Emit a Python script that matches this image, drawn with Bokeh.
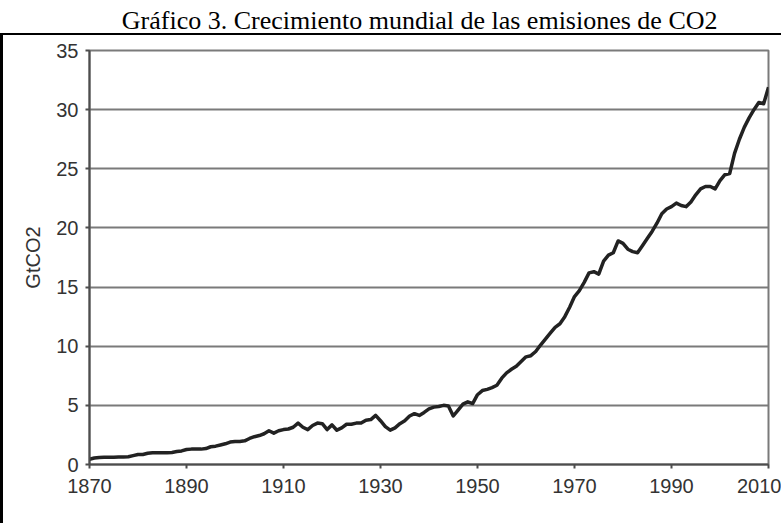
from bokeh.plotting import figure
from bokeh.layouts import column
from bokeh.models import Label, FixedTicker, Range1d
from bokeh.embed import file_html
from bokeh.resources import INLINE

title_text = "Gráfico 3. Crecimiento mundial de las emisiones de CO2"
y_label = "GtCO2"

years = list(range(1870, 2011))
emissions = [
    0.45, 0.55, 0.60, 0.62, 0.62, 0.62, 0.63, 0.63, 0.65, 0.75,   # 1870-1879
    0.85, 0.85, 0.95, 1.00, 1.00, 1.00, 1.00, 1.02, 1.10, 1.15,   # 1880-1889
    1.27, 1.30, 1.30, 1.30, 1.35, 1.50, 1.55, 1.65, 1.75, 1.90,   # 1890-1899
    1.95, 1.95, 2.00, 2.20, 2.35, 2.45, 2.60, 2.85, 2.65, 2.85,   # 1900-1909
    2.95, 3.00, 3.15, 3.50, 3.15, 2.95, 3.30, 3.50, 3.45, 2.95,   # 1910-1919
    3.35, 2.90, 3.10, 3.40, 3.40, 3.50, 3.50, 3.75, 3.80, 4.15,   # 1920-1929
    3.70, 3.20, 2.90, 3.10, 3.45, 3.70, 4.10, 4.30, 4.15, 4.40,   # 1930-1939
    4.70, 4.85, 4.90, 5.00, 4.95, 4.10, 4.60, 5.10, 5.30, 5.15,   # 1940-1949
    5.90, 6.25, 6.35, 6.50, 6.70, 7.30, 7.75, 8.05, 8.30, 8.70,   # 1950-1959
    9.10, 9.20, 9.55, 10.1, 10.6, 11.1, 11.6, 11.9, 12.5, 13.3,   # 1960-1969
    14.2, 14.7, 15.4, 16.2, 16.3, 16.1, 17.2, 17.7, 17.9, 18.9,   # 1970-1979
    18.7, 18.2, 18.0, 17.9, 18.5, 19.1, 19.7, 20.4, 21.2, 21.6,   # 1980-1989
    21.8, 22.1, 21.9, 21.8, 22.2, 22.8, 23.3, 23.5, 23.5, 23.3,   # 1990-1999
    24.0, 24.5, 24.6, 26.3, 27.5, 28.5, 29.3, 30.0, 30.6, 30.5,   # 2000-2009
    31.9,                                                         # 2010
]
assert len(years) == len(emissions)

x_ticks = [1870, 1890, 1910, 1930, 1950, 1970, 1990, 2010]
y_ticks = [0, 5, 10, 15, 20, 25, 30, 35]

# ---- title strip ----
t = figure(width=784, height=33, x_range=Range1d(0, 784), y_range=Range1d(0, 33),
           x_axis_type=None, y_axis_type=None,
           output_backend="svg", toolbar_location=None, min_border=0)
t.grid.grid_line_color = None
t.outline_line_color = None
t.add_layout(Label(x=383, y=13.5, text=title_text, text_align="center",
                   text_baseline="alphabetic", text_font="Liberation Serif",
                   text_font_size="26px", text_color="black"))

# ---- chart ----
p = figure(
    width=781, height=490,
    x_range=Range1d(1870, 2010), y_range=Range1d(0, 35),
    output_backend="svg", toolbar_location=None,
    min_border_left=86, min_border_right=16,
    min_border_top=15, min_border_bottom=61,
    background_fill_color="white", border_fill_color="white",
)
p.styles = {"border-top": "2px solid black", "border-left": "3px solid black"}

p.outline_line_color = "#7a7a7a"
p.outline_line_width = 2

p.line(years, emissions, line_color="#222222", line_width=3.5, line_join="round")

for ax, ticks in ((p.xaxis, x_ticks), (p.yaxis, y_ticks)):
    ax.ticker = FixedTicker(ticks=ticks)
    ax.axis_line_color = "#4d4d4d"
    ax.axis_line_width = 2
    ax.major_tick_line_color = "#4d4d4d"
    ax.major_tick_line_width = 2
    ax.major_tick_out = 4
    ax.major_tick_in = 0
    ax.minor_tick_line_color = None
    ax.major_label_text_font = "Liberation Sans"
    ax.major_label_text_font_size = "20px"
    ax.major_label_text_color = "#333333"

p.xaxis.major_label_standoff = 10
p.yaxis.major_label_standoff = 7
p.yaxis.axis_label = y_label
p.yaxis.axis_label_text_font = "Liberation Sans"
p.yaxis.axis_label_text_font_size = "20px"
p.yaxis.axis_label_text_font_style = "normal"
p.yaxis.axis_label_text_color = "#333333"
p.yaxis.axis_label_standoff = 9

p.xgrid.grid_line_color = None
p.ygrid.ticker = FixedTicker(ticks=y_ticks)
p.ygrid.grid_line_color = "#7a7a7a"
p.ygrid.grid_line_width = 2

layout = column(t, p, spacing=0)

open("out.html", "w").write(file_html(layout, INLINE))
